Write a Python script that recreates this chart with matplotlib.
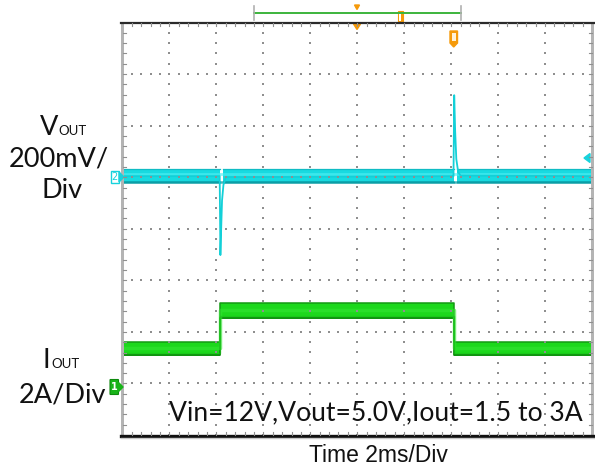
import numpy as np
import matplotlib
matplotlib.use("Agg")
import matplotlib.pyplot as plt
from matplotlib.patches import Polygon, Rectangle, FancyBboxPatch

# ---------------- data (time in ms, traces in screen divisions) ----------------
time_ms_per_div = 2
# Vout (channel 2, cyan) centre of trace
vout_t = [-10.0, -5.86, -5.83, -5.80, -5.76, -5.70, -5.60, 4.06, 4.10, 4.13, 4.17, 4.22, 4.30, 4.40, 10.0]
vout_v = [1.02, 1.02, -0.51, -0.05, 0.55, 0.85, 1.00, 1.02, 1.02, 2.59, 1.90, 1.35, 1.10, 1.03, 1.02]
vout_band = 0.135
vout_band_segments = [(-10.0, -5.83), (-5.72, 4.12), (4.26, 10.0)]
# Iout (channel 1, green)
iout_t = [-10.0, -5.85, -5.85, 4.12, 4.12, 10.0]
iout_v = [-2.33, -2.33, -1.59, -1.59, -2.33, -2.33]
iout_band = [0.136, 0.136, 0.155, 0.155, 0.136, 0.136]

# ---------------- figure ----------------
W, H = 595, 472
L, R, T, B = 122.5, 592.0, 22.5, 435.0
fig = plt.figure(figsize=(W / 100, H / 100), dpi=100)
ax = fig.add_axes([L / W, 1 - B / H, (R - L) / W, (B - T) / H])
ax.set_xlim(-5, 5)
ax.set_ylim(-4, 4)
ax.axis("off")

# grid dots
gx, gy = [], []
for xv in range(-4, 5):
    for yv in np.arange(-4, 4.001, 0.2):
        gx.append(xv); gy.append(yv)
for yv in range(-3, 4):
    for xv in np.arange(-5, 5.001, 0.2):
        gx.append(xv); gy.append(yv)
ax.scatter(gx, gy, s=1.2, color="#8f8f8f", marker="s", linewidths=0, zorder=6)

# --- Iout trace
it = np.array(iout_t) / time_ms_per_div
iv = np.array(iout_v)
ib = np.array(iout_band)
ax.fill_between(it, iv - ib, iv + ib, color="#1cd81c", lw=0, zorder=3)
ax.plot(it, iv + ib - 0.01, color="#139a13", lw=1.1, zorder=4)
ax.plot(it, iv - ib + 0.015, color="#0f8c0f", lw=1.3, zorder=4)
ax.plot(it, iv + 0.02, color="#33e433", lw=2.5, zorder=4, alpha=0.6)
ax.plot(it, iv - ib * 0.6, color="#18c218", lw=1.0, zorder=4, alpha=0.6)

# --- Vout trace
vt = np.array(vout_t) / time_ms_per_div
vv = np.array(vout_v)
for a, b in vout_band_segments:
    xa, xb = a / time_ms_per_div, b / time_ms_per_div
    base = vout_v[0]
    ax.fill_between([xa, xb], [base - vout_band] * 2, [base + vout_band] * 2,
                    color="#18dae0", lw=0, zorder=3)
    ax.plot([xa, xb], [base - vout_band + 0.025] * 2, color="#0b9ea6", lw=1.8, zorder=4)
    ax.plot([xa, xb], [base + vout_band - 0.005] * 2, color="#10bcc4", lw=0.9, zorder=4)
    ax.plot([xa, xb], [base + 0.04] * 2, color="#4aeef2", lw=2.0, zorder=4, alpha=0.7)
ax.plot(vt, vv, color="#12d0d8", lw=1.3, zorder=5)

# ---------------- overlay (frame, markers, text) ----------------
ov = fig.add_axes([0, 0, 1, 1], zorder=10)
ov.set_xlim(0, W)
ov.set_ylim(H, 0)
ov.axis("off")
ov.patch.set_alpha(0)

# borders
ov.add_patch(Rectangle((L - 1.5, T), 3, B - T, color="#b4b4b4", lw=0))
ov.add_patch(Rectangle((R - 1.5, T), 3, B - T, color="#b4b4b4", lw=0))
ov.plot([L - 1.5, R + 1.5], [T, T], color="#2a2a2a", lw=1.6)
ov.plot([L - 1.5, R + 1.5], [B + 0.5, B + 0.5], color="#111111", lw=2.4)
ov.plot([L - 1.5, R + 1.5], [B + 2.5, B + 2.5], color="#c8c8c8", lw=1.0)

# edge ticks
dxp = (R - L) / 50
dyp = (B - T) / 40
for k in range(1, 50):
    x = L + k * dxp
    ov.plot([x, x], [T, T + 3], color="#909090", lw=0.8)
    ov.plot([x, x], [B - 3, B], color="#909090", lw=0.8)
for k in range(1, 40):
    y = T + k * dyp
    ov.plot([L, L + 3], [y, y], color="#909090", lw=0.8)
    ov.plot([R - 3, R], [y, y], color="#909090", lw=0.8)

# top bracket
ov.plot([254, 461], [13, 13], color="#3cb43c", lw=1.4)
ov.plot([254, 254], [6, 20], color="#b0b0b0", lw=1.2)
ov.plot([461, 461], [6, 20], color="#b0b0b0", lw=1.2)
orange = "#f59a0a"
ov.add_patch(Polygon([[354.5, 5], [359.5, 5], [357, 9.5]], color=orange))
ov.add_patch(Polygon([[353.5, 24], [360.5, 24], [357, 29.5]], color=orange))
ov.add_patch(Rectangle((397.5, 11), 5, 11, facecolor=orange, edgecolor=orange, lw=0.8))
ov.add_patch(Rectangle((399, 13), 2, 8, facecolor="white", lw=0))
ov.add_patch(Polygon([[450, 31], [457.5, 31], [457.5, 43], [453.7, 47], [450, 43]], color=orange))
ov.add_patch(Rectangle((451.8, 33), 3.8, 8, facecolor="#fff1d6", lw=0))

# channel markers
cyan = "#18d2dc"
ov.add_patch(Rectangle((110.5, 171), 8.5, 12, facecolor="white", edgecolor=cyan, lw=1.0))
ov.text(114.7, 177.5, "2", color=cyan, fontsize=7, ha="center", va="center",
        family="DejaVu Sans")
ov.add_patch(Polygon([[119, 172], [124, 177], [119, 182]], color=cyan))
ov.add_patch(Polygon([[590, 153.5], [584, 158], [590, 162.5]], color=cyan))

green = "#18b418"
ov.add_patch(FancyBboxPatch((110.5, 380), 7.5, 14, boxstyle="round,pad=0.5",
                            facecolor=green, edgecolor="#0e8a0e", lw=0.8))
ov.text(114.3, 387.5, "1", color="white", fontsize=7, ha="center", va="center",
        family="DejaVu Sans", fontweight="bold")
ov.add_patch(Polygon([[118.5, 382.5], [123, 387], [118.5, 391.5]], color=green))

# left labels
lab = dict(family=["Lato", "DejaVu Sans"], color="#111111", va="baseline")
ov.text(58, 135, "V", fontsize=19.5, ha="right", **lab)
ov.text(58.5, 135, "OUT", fontsize=9.5, ha="left", **lab)
ov.text(59, 166, "200mV/", fontsize=19.5, ha="center", **lab)
ov.text(62, 198, "Div", fontsize=19.5, ha="center", **lab)
ov.text(50, 368, "I", fontsize=19.5, ha="right", **lab)
ov.text(51.5, 368, "OUT", fontsize=9.5, ha="left", **lab)
ov.text(62, 402, "2A/Div", fontsize=19.5, ha="center", **lab)

ov.text(583, 420, "Vin=12V,Vout=5.0V,Iout=1.5 to 3A", fontsize=19.1, ha="right", **lab)
ov.text(378.5, 462, "Time 2ms/Div", fontsize=16.5, ha="center",
        family="Liberation Sans", color="#111111", va="baseline")

fig.savefig("out.png", dpi=100, facecolor="white")
